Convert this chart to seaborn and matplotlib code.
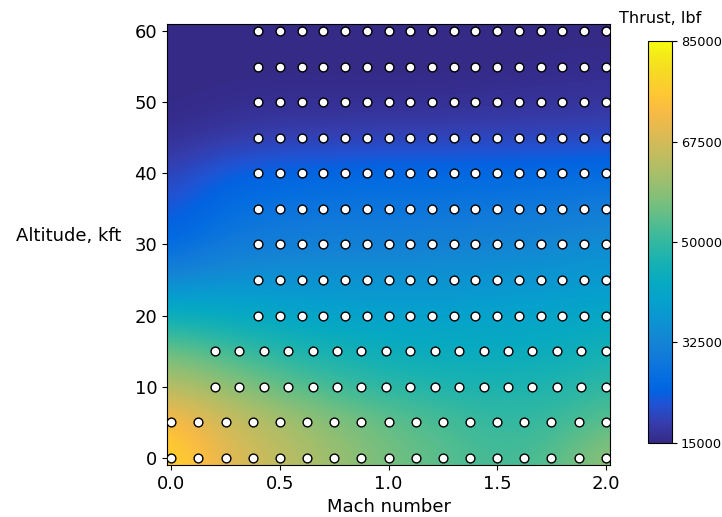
import numpy as np
import pandas as pd
import matplotlib
matplotlib.use("Agg")
import matplotlib.pyplot as plt
from matplotlib.colors import LinearSegmentedColormap
import seaborn as sns

# ---- thrust field (lbf): rows = altitude, cols = Mach ----
grid_mach = [0.0, 0.25, 0.5, 0.75, 1.0, 1.25, 1.5, 1.75, 2.0]
grid_alt = [0, 5, 10, 15, 20, 25, 30, 35, 40, 45, 50, 55, 60]
thrust_alt0 = [79500, 69500, 65000, 60500, 56500, 54000, 51500, 53500, 60000]
thrust_alt5 = [74500, 67000, 62500, 58500, 55000, 52500, 50000, 50500, 54500]
thrust_alt10 = [64000, 59500, 55000, 51500, 49000, 47500, 47000, 47500, 50000]
thrust_alt15 = [56000, 52000, 48500, 46000, 44500, 43500, 43500, 44000, 46000]
thrust_alt20 = [45000, 43000, 41500, 40500, 40000, 40000, 40500, 41000, 42000]
thrust_alt25 = [33500, 35500, 36000, 36000, 36000, 36000, 36500, 37000, 38000]
thrust_alt30 = [25000, 30000, 31000, 31500, 31500, 32000, 32500, 33500, 35000]
thrust_alt35 = [22000, 26500, 28000, 28500, 28500, 28500, 29000, 29500, 30500]
thrust_alt40 = [19000, 23500, 24500, 25000, 25500, 25500, 25500, 26000, 26500]
thrust_alt45 = [16000, 17500, 18500, 18500, 19000, 19000, 19500, 19500, 20000]
thrust_alt50 = [15000, 15500, 16000, 16000, 16000, 16000, 16500, 16500, 17000]
thrust_alt55 = [15000, 15000, 15000, 15000, 15000, 15000, 15000, 15500, 15500]
thrust_alt60 = [14500, 14500, 14500, 14500, 14500, 14500, 14500, 15000, 15000]

# ---- operating points ----
pts_alt_low = [0, 5]
pts_mach_low = [0.0, 0.125, 0.25, 0.375, 0.5, 0.625, 0.75, 0.875, 1.0,
                1.125, 1.25, 1.375, 1.5, 1.625, 1.75, 1.875, 2.0]
pts_alt_mid = [10, 15]
pts_mach_mid = [0.2, 0.3125, 0.425, 0.5375, 0.65, 0.7625, 0.875, 0.9875, 1.1,
                1.2125, 1.325, 1.4375, 1.55, 1.6625, 1.775, 1.8875, 2.0]
pts_alt_high = [20, 25, 30, 35, 40, 45, 50, 55, 60]
pts_mach_high = [0.4, 0.5, 0.6, 0.7, 0.8, 0.9, 1.0, 1.1, 1.2,
                 1.3, 1.4, 1.5, 1.6, 1.7, 1.8, 1.9, 2.0]

cbar_ticks = [15000, 32500, 50000, 67500, 85000]

# ---- parula colormap ----
parula_anchor = [
    (0, (0.2081, 0.1663, 0.5292)), (3, (0.2081, 0.2386, 0.6771)),
    (6, (0.1253, 0.3242, 0.8303)), (8, (0.0117, 0.3875, 0.8820)),
    (10, (0.0165, 0.4266, 0.8786)), (13, (0.0629, 0.4737, 0.8554)),
    (16, (0.0793, 0.5200, 0.8312)), (19, (0.0488, 0.5772, 0.8228)),
    (22, (0.0239, 0.6287, 0.8038)), (25, (0.0267, 0.6642, 0.7607)),
    (28, (0.0843, 0.6928, 0.7062)), (31, (0.1801, 0.7177, 0.6424)),
    (34, (0.3022, 0.7376, 0.5712)), (37, (0.4420, 0.7481, 0.5033)),
    (40, (0.5709, 0.7485, 0.4494)), (43, (0.6834, 0.7435, 0.4044)),
    (46, (0.7858, 0.7356, 0.3633)), (49, (0.8824, 0.7274, 0.3217)),
    (52, (0.9739, 0.7314, 0.2666)), (55, (0.9955, 0.7861, 0.1967)),
    (58, (0.9697, 0.8481, 0.1475)), (61, (0.9598, 0.9218, 0.0948)),
    (63, (0.9763, 0.9831, 0.0538)),
]
parula = LinearSegmentedColormap.from_list(
    "parula", [(i / 63.0, c) for i, c in parula_anchor], N=256)

thrust = np.array([thrust_alt0, thrust_alt5, thrust_alt10, thrust_alt15,
                   thrust_alt20, thrust_alt25, thrust_alt30, thrust_alt35,
                   thrust_alt40, thrust_alt45, thrust_alt50, thrust_alt55,
                   thrust_alt60], dtype=float)

rows = []
for a in pts_alt_low:
    rows += [(m, a) for m in pts_mach_low]
for a in pts_alt_mid:
    rows += [(m, a) for m in pts_mach_mid]
for a in pts_alt_high:
    rows += [(m, a) for m in pts_mach_high]
df = pd.DataFrame(rows, columns=["Mach", "Altitude"])

fig = plt.figure(figsize=(7.22, 5.17), dpi=100)
ax = fig.add_axes([0.2313, 0.1006, 0.6136, 0.853])
cax = fig.add_axes([0.898, 0.1437, 0.0324, 0.7764])

dx = grid_mach[1] - grid_mach[0]
dy = grid_alt[1] - grid_alt[0]
im = ax.imshow(thrust, origin="lower", aspect="auto", cmap=parula,
               vmin=15000, vmax=85000, interpolation="bicubic",
               extent=(grid_mach[0] - dx / 2, grid_mach[-1] + dx / 2,
                       grid_alt[0] - dy / 2, grid_alt[-1] + dy / 2))

sns.scatterplot(data=df, x="Mach", y="Altitude", ax=ax, color="white",
                edgecolor="black", linewidth=1.0, s=40, zorder=3, legend=False)

ax.set_xlim(-0.02, 2.02)
ax.set_ylim(-1, 61)
ax.set_xticks([0.0, 0.5, 1.0, 1.5, 2.0])
ax.set_yticks([0, 10, 20, 30, 40, 50, 60])
ax.tick_params(labelsize=13)
ax.set_xlabel("Mach number", fontsize=13)
ax.set_ylabel("Altitude, kft", fontsize=13, rotation=0, ha="right", va="center")
ax.yaxis.set_label_coords(-0.104, 0.52)

cb = fig.colorbar(im, cax=cax, ticks=cbar_ticks)
cb.ax.tick_params(labelsize=9.3, pad=3)
cb.ax.set_title("Thrust, lbf", fontsize=11.5, pad=13)

fig.savefig("out.png", dpi=100)
